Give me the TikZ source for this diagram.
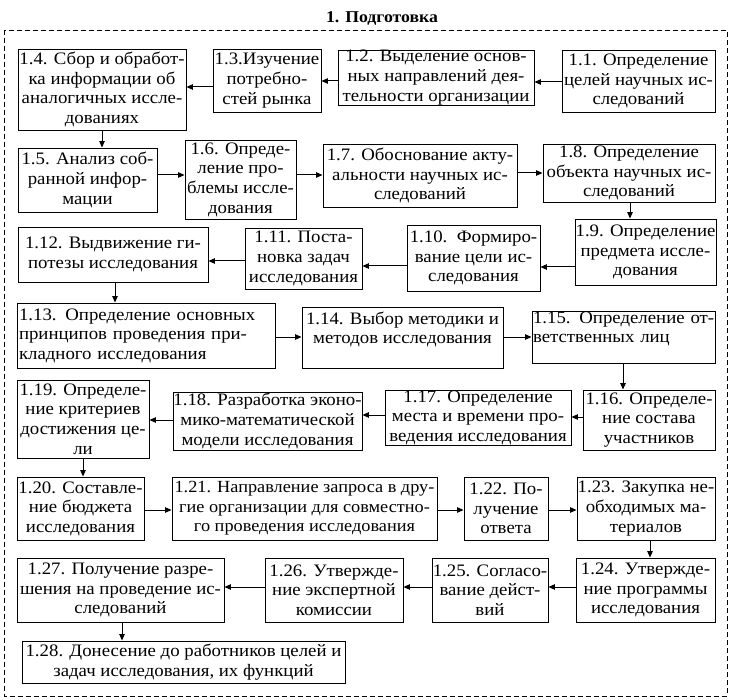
\documentclass[tikz,border=0pt]{standalone}
\usepackage{fontspec}
\setmainfont{Liberation Serif}[FakeStretch=1.075]
\usetikzlibrary{arrows.meta}
\newcommand\Bx[7]{\node[blk,#6,minimum width={(#4-#2)*1pt},minimum height={(#5-#3)*1pt}] (#1) at ({(#2+#4)/2},{(#3+#5)/2}) {#7};}
\begin{document}
\begin{tikzpicture}[x=1pt,y=-1pt,
 blk/.style={draw, line width=0.9pt, inner sep=0pt, align=center, font=\fontsize{17.5}{19.6}\selectfont},
 arr/.style={line width=1pt, -{Triangle[length=6.5pt,width=5.5pt]}},
 frame/.style={line width=0.9pt, dash pattern=on 5pt off 3pt}
]
\useasboundingbox (0,0) rectangle (733,700);
\node[font=\bfseries\fontsize{16.5}{18}\selectfont] (title) at (382,18) {1. Подготовка};
\draw[frame] (4,30) rectangle (727,696);
% row 1
\Bx{n14}{18}{49}{186}{130}{}{1.4. Сбор и обработ-\\ка информации об\\аналогичных иссле-\\дованиях}
\Bx{n13}{213}{49}{321}{112}{}{1.3.Изучение\\потребно-\\стей рынка}
\Bx{n12}{338}{50}{534}{105}{}{1.2. Выделение основ-\\ных направлений дея-\\тельности организации}
\Bx{n11}{562}{50}{715}{112}{}{1.1. Определение\\целей научных ис-\\следований}
% row 2
\Bx{n15}{18}{148}{157}{212}{}{1.5. Анализ соб-\\ранной инфор-\\мации}
\Bx{n16}{185}{140}{296}{219}{}{1.6. Опреде-\\ление про-\\блемы иссле-\\дования}
\Bx{n17}{323}{144}{517}{207}{}{1.7. Обоснование акту-\\альности научных ис-\\следований}
\Bx{n18}{543}{144}{715}{202}{}{1.8. Определение\\объекта научных ис-\\следований}
% row 3
\Bx{n19}{575}{219}{716}{285}{}{1.9. Определение\\предмета иссле-\\дования}
\Bx{n110}{407}{225}{540}{291}{}{1.10.\ \ Формиро-\\вание цели ис-\\следования}
\Bx{n111}{245}{228}{362}{289}{}{1.11. Поста-\\новка задач\\исследования}
\Bx{n112}{18}{227}{208}{282}{}{1.12. Выдвижение ги-\\потезы исследования}
% row 4
\Bx{n113}{17}{303}{275}{368}{align=left,text width=254pt}{\mbox{1.13. Определение основных}\\\mbox{принципов проведения при-}\\\mbox{кладного исследования}}
\Bx{n114}{302}{307}{503}{368}{}{1.14. Выбор методики и\\методов исследования\\~}
\Bx{n115}{532}{311}{715}{363}{align=left,text width=181pt}{\mbox{1.15. Определение от-}\\\mbox{ветственных лиц}\\~}
% row 5
\Bx{n116}{583}{390}{715}{450}{}{1.16. Определе-\\ние состава\\участников}
\Bx{n117}{385}{390}{571}{445}{}{1.17. Определение\\места и времени про-\\ведения исследования}
\Bx{n118}{173}{392}{362}{450}{}{1.18. Разработка эконо-\\мико-математической\\модели исследования}
\Bx{n119}{17}{380}{149}{458}{}{1.19. Определе-\\ние критериев\\достижения це-\\ли}
% row 6
\Bx{n120}{17}{477}{144}{540}{}{1.20. Составле-\\ние бюджета\\исследования}
\Bx{n121}{172}{477}{437}{540}{font=\fontsize{17}{19.6}\selectfont}{1.21. Направление запроса в дру-\\гие организации для совместно-\\го проведения исследования}
\Bx{n122}{464}{477}{548}{540}{}{1.22. По-\\лучение\\ответа}
\Bx{n123}{577}{477}{715}{540}{}{1.23. Закупка не-\\обходимых ма-\\териалов}
% row 7
\Bx{n124}{576}{558}{715}{622}{}{1.24. Утвержде-\\ние программы\\исследования}
\Bx{n125}{432}{558}{548}{622}{}{1.25. Согласо-\\вание дейст-\\вий}
\Bx{n126}{265}{558}{403}{622}{}{1.26. Утвержде-\\ние экспертной\\комиссии}
\Bx{n127}{17}{558}{224}{622}{}{1.27. Получение разре-\\шения на проведение ис-\\следований}
% row 8
\Bx{n128}{22}{641}{345}{683}{}{1.28. Донесение до работников целей и\\задач исследования, их функций}
% arrows row 1
\draw[arr] (n11.west |- 0,82) -- (n12.east |- 0,82);
\draw[arr] (n12.west |- 0,81) -- (n13.east |- 0,81);
\draw[arr] (n13.west |- 0,87) -- (n14.east |- 0,87);
\draw[arr] (n14.south -| 102,0) -- (n15.north -| 102,0);
% row 2
\draw[arr] (n15.east |- 0,175) -- (n16.west |- 0,175);
\draw[arr] (n16.east |- 0,175) -- (n17.west |- 0,175);
\draw[arr] (n17.east |- 0,173) -- (n18.west |- 0,173);
\draw[arr] (n18.south -| 630,0) -- (n19.north -| 630,0);
% row 3
\draw[arr] (n19.west |- 0,267) -- (n110.east |- 0,267);
\draw[arr] (n110.west |- 0,266) -- (n111.east |- 0,266);
\draw[arr] (n111.west |- 0,261) -- (n112.east |- 0,261);
\draw[arr] (n112.south -| 115,0) -- (n113.north -| 115,0);
% row 4
\draw[arr] (n113.east |- 0,337) -- (n114.west |- 0,337);
\draw[arr] (n114.east |- 0,337) -- (n115.west |- 0,337);
\draw[arr] (n115.south -| 623,0) -- (n116.north -| 623,0);
% row 5
\draw[arr] (n116.west |- 0,417) -- (n117.east |- 0,417);
\draw[arr] (n117.west |- 0,415) -- (n118.east |- 0,415);
\draw[arr] (n118.west |- 0,420) -- (n119.east |- 0,420);
\draw[arr] (n119.south -| 83,0) -- (n120.north -| 83,0);
% row 6
\draw[arr] (n120.east |- 0,510) -- (n121.west |- 0,510);
\draw[arr] (n121.east |- 0,510) -- (n122.west |- 0,510);
\draw[arr] (n122.east |- 0,510) -- (n123.west |- 0,510);
\draw[arr] (n123.south -| 650,0) -- (n124.north -| 650,0);
% row 7
\draw[arr] (n124.west |- 0,587) -- (n125.east |- 0,587);
\draw[arr] (n125.west |- 0,587) -- (n126.east |- 0,587);
\draw[arr] (n126.west |- 0,587) -- (n127.east |- 0,587);
\draw[arr] (n127.south -| 122,0) -- (n128.north -| 122,0);
\end{tikzpicture}
\end{document}
